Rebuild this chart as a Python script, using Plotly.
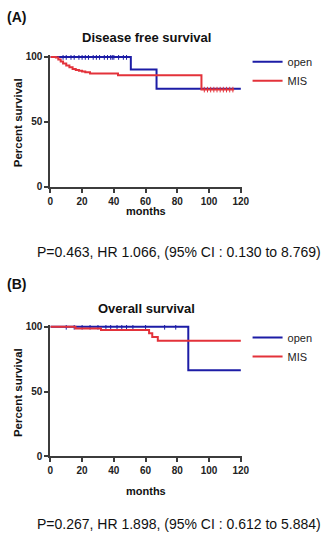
import plotly.graph_objects as go

W, H = 330, 536

# Disease free survival
dfs_open_t = [0, 50.7, 66.9, 120]
dfs_open_s = [100, 90.4, 75.4, 75.4]
dfs_open_cens_t = [8, 10, 13, 15, 18, 20, 22, 24, 27, 29, 31, 34, 36, 38, 39, 40, 43, 46, 48]
dfs_open_cens_s = [100] * len(dfs_open_cens_t)

dfs_mis_t = [0, 3.5, 5, 6.5, 8, 10, 12, 14, 16, 18, 20, 22, 25, 42.6, 95.2, 115.8]
dfs_mis_s = [100, 99.5, 98, 96.5, 95, 93.5, 92, 90.8, 90, 89.3, 88.7, 88.2, 87.3, 85.8, 74.8, 74.8]
dfs_mis_cens_t = [97, 99, 101, 103, 105, 107, 109, 111, 113, 115]
dfs_mis_cens_s = [74.8] * len(dfs_mis_cens_t)

# Overall survival
os_open_t = [0, 86.9, 120]
os_open_s = [100, 66.4, 66.4]
os_open_cens_t = [10, 15, 20, 25, 30, 35, 38, 42, 45, 48, 52, 60, 72, 79]
os_open_cens_s = [100] * len(os_open_cens_t)

os_mis_t = [0, 15.8, 31.9, 62.2, 64.2, 67.7, 120]
os_mis_s = [100, 98.8, 97.5, 95.0, 92.2, 89.2, 89.2]

x_ticks = [0, 20, 40, 60, 80, 100, 120]
y_ticks = [0, 50, 100]

titles = ["Disease free survival", "Overall survival"]
panel_labels = ["(A)", "(B)"]
stats = ["P=0.463, HR 1.066, (95% CI : 0.130 to 8.769)",
         "P=0.267, HR 1.898, (95% CI : 0.612 to 5.884)"]
series_names = ["open", "MIS"]

BLUE = "#1c1ca6"
RED = "#e3323a"
AX = "#3c3c3c"
FONT = "Liberation Sans, Arial, sans-serif"

def py(p):
    return 1 - p / H

fig = go.Figure()

panels = [
    dict(xa="x", ya="y", leg="legend",
         lines=[(dfs_open_t, dfs_open_s, BLUE, dfs_open_cens_t, dfs_open_cens_s),
                (dfs_mis_t, dfs_mis_s, RED, dfs_mis_cens_t, dfs_mis_cens_s)]),
    dict(xa="x2", ya="y2", leg="legend2",
         lines=[(os_open_t, os_open_s, BLUE, os_open_cens_t, os_open_cens_s),
                (os_mis_t, os_mis_s, RED, [], [])]),
]

for pi, p in enumerate(panels):
    for li, (t, s, c, ct, cs) in enumerate(p["lines"]):
        fig.add_trace(go.Scatter(x=t, y=s, mode="lines", line=dict(color=c, width=2, shape="hv"),
                                 name=series_names[li], xaxis=p["xa"], yaxis=p["ya"],
                                 legend=p["leg"], showlegend=True))
        if ct:
            fig.add_trace(go.Scatter(x=ct, y=cs, mode="markers",
                                     marker=dict(symbol="line-ns", size=4,
                                                 line=dict(color=c, width=1)),
                                     xaxis=p["xa"], yaxis=p["ya"], showlegend=False,
                                     hoverinfo="skip"))

xdom = [49 / W, 247 / W]
ydomA = [py(186), py(52)]
ydomB = [py(461), py(327)]

axis_common = dict(showline=True, linecolor=AX, linewidth=2, ticks="outside",
                   ticklen=4, tickwidth=1.5, tickcolor=AX, showgrid=False, zeroline=False,
                   tickfont=dict(family=FONT, size=10, color="#222", weight="bold"))

legend_common = dict(x=253 / W, xanchor="left", yanchor="top",
                     font=dict(family=FONT, size=11, color="#222"), bgcolor="rgba(0,0,0,0)",
                     tracegroupgap=0, itemwidth=30)

fig.update_layout(
    width=W, height=H, margin=dict(l=0, r=0, t=0, b=0),
    plot_bgcolor="white", paper_bgcolor="white",
    xaxis=dict(domain=xdom, anchor="y", range=[0, 120.6], tickvals=x_ticks, **axis_common),
    yaxis=dict(domain=ydomA, anchor="x", range=[0, 101.5], tickvals=y_ticks, **axis_common),
    xaxis2=dict(domain=xdom, anchor="y2", range=[0, 120.6], tickvals=x_ticks, **axis_common),
    yaxis2=dict(domain=ydomB, anchor="x2", range=[0, 101.5], tickvals=y_ticks, **axis_common),
    legend=dict(y=py(44), **legend_common),
    legend2=dict(y=py(325), **legend_common),
    showlegend=True,
)

ann = []
ann.append(dict(text="<b>(A)</b>", x=2 / W, y=py(13), xanchor="left", yanchor="middle", size=14))
ann.append(dict(text="<b>(B)</b>", x=2 / W, y=py(285), xanchor="left", yanchor="middle", size=14))
ann.append(dict(text="<b>" + titles[0] + "</b>", x=148 / W, y=py(34), xanchor="center", yanchor="middle", size=13))
ann.append(dict(text="<b>" + titles[1] + "</b>", x=148 / W, y=py(310), xanchor="center", yanchor="middle", size=13))
ann.append(dict(text="<b>Percent survival</b>", x=15 / W, y=py(121), xanchor="center", yanchor="middle", size=11.5, angle=-90))
ann.append(dict(text="<b>Percent survival</b>", x=15 / W, y=py(396), xanchor="center", yanchor="middle", size=11.5, angle=-90))
ann.append(dict(text="<b>months</b>", x=148 / W, y=py(211), xanchor="center", yanchor="middle", size=11))
ann.append(dict(text="<b>months</b>", x=148 / W, y=py(496), xanchor="center", yanchor="middle", size=11))
ann.append(dict(text=stats[0], x=182 / W, y=py(253), xanchor="center", yanchor="middle", size=14))
ann.append(dict(text=stats[1], x=182 / W, y=py(530), xanchor="center", yanchor="middle", size=14))

for a in ann:
    fig.add_annotation(text=a["text"], x=a["x"], y=a["y"], xref="paper", yref="paper",
                       xanchor=a["xanchor"], yanchor=a["yanchor"], showarrow=False,
                       textangle=a.get("angle", 0),
                       font=dict(family=FONT, size=a.get("size", 13), color="#111"))

fig.write_html("out.html", config={"displayModeBar": False},
               post_script="document.body.style.margin='0';document.body.style.padding='0';")
